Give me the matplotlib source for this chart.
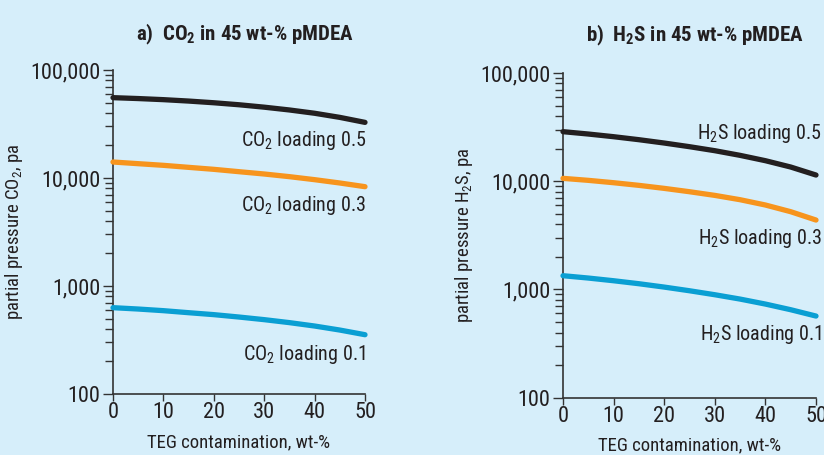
import matplotlib
matplotlib.use("Agg")
import matplotlib.pyplot as plt
from matplotlib.ticker import FixedLocator, LogLocator, NullFormatter, FuncFormatter
from matplotlib import font_manager

names = {f.name for f in font_manager.fontManager.ttflist}
FONT = next((n for n in ["Roboto Condensed", "Archivo Narrow", "PT Sans Narrow",
                         "IBM Plex Sans Condensed", "Liberation Sans"] if n in names), "DejaVu Sans")
plt.rcParams['font.family'] = [FONT, 'DejaVu Sans']
plt.rcParams['mathtext.fontset'] = 'custom'
plt.rcParams['mathtext.rm'] = FONT
plt.rcParams['mathtext.it'] = FONT
plt.rcParams['mathtext.bf'] = FONT + ':bold'

# Data
teg = [0, 5, 10, 15, 20, 25, 30, 35, 40, 45, 50]
co2_05 = [55450, 54400, 53140, 51570, 49740, 47660, 45270, 42650, 39760, 36420, 32740]
co2_03 = [14060, 13570, 13100, 12550, 12030, 11440, 10890, 10290, 9650, 8990, 8310]
co2_01 = [630, 612, 591, 566, 543, 516, 488, 458, 426, 391, 354]
h2s_05 = [28700, 27300, 25790, 24200, 22540, 20850, 19150, 17340, 15480, 13530, 11410]
h2s_03 = [10630, 10190, 9690, 9160, 8590, 8000, 7400, 6750, 6030, 5230, 4380]
h2s_01 = [1340, 1275, 1204, 1130, 1052, 973, 894, 815, 733, 650, 568]
xticks = [0, 10, 20, 30, 40, 50]
yticks = [100, 1000, 10000, 100000]

BG = "#D6EEFA"
C_BLACK = "#231F20"
C_ORANGE = "#F7941D"
C_BLUE = "#0A9FD3"
AX = "#333333"
TXT = "#231F20"

fig = plt.figure(figsize=(8.24, 4.55), dpi=100)
fig.patch.set_facecolor(BG)

axL = fig.add_axes([113/824, 1-394/455, (365-113)/824, (394-70)/455])
axR = fig.add_axes([563/824, 1-397.7/455, (816-563)/824, (397.7-73)/455])

def style(ax):
    ax.set_facecolor(BG)
    ax.set_yscale('log')
    ax.set_xlim(0, 50)
    ax.set_ylim(100, 100000)
    for s in ['top', 'right']:
        ax.spines[s].set_visible(False)
    for s in ['left', 'bottom']:
        ax.spines[s].set_color(AX)
        ax.spines[s].set_linewidth(1.2)
    ax.xaxis.set_major_locator(FixedLocator(xticks))
    ax.yaxis.set_major_locator(FixedLocator(yticks))
    ax.yaxis.set_minor_locator(LogLocator(base=10, subs=range(2, 10)))
    ax.yaxis.set_minor_formatter(NullFormatter())
    ax.yaxis.set_major_formatter(FuncFormatter(lambda v, p: f"{int(round(v)):,}"))
    ax.tick_params(axis='y', which='major', length=7, width=1.0, color=AX, labelsize=16, labelcolor=TXT, pad=2)
    ax.tick_params(axis='y', which='minor', length=6, width=1.0, color=AX)
    ax.tick_params(axis='x', which='major', length=5, width=1.0, color=AX, labelsize=16, labelcolor=TXT, pad=1)
    ax.set_xlabel("TEG contamination, wt-%", fontsize=13.5, color=TXT, labelpad=7)

LW = 3.8
for ax, series in [(axL, [co2_05, co2_03, co2_01]), (axR, [h2s_05, h2s_03, h2s_01])]:
    style(ax)
    for vals, c in zip(series, [C_BLACK, C_ORANGE, C_BLUE]):
        ax.plot(teg, vals, color=c, lw=LW, solid_capstyle='round', clip_on=False, zorder=3)

# axis labels
axL.set_ylabel(r"partial pressure CO$_2$, pa", fontsize=13.5, color=TXT, labelpad=4)
axR.set_ylabel(r"partial pressure H$_2$S, pa", fontsize=13.5, color=TXT, labelpad=4)

# titles
fig.text(245/824, 1-34/455, r"a)  CO$_\mathbf{2}$ in 45 wt-% pMDEA", ha='center', va='center',
         fontsize=15, fontweight='bold', color=TXT)
fig.text(695/824, 1-35/455, r"b)  H$_\mathbf{2}$S in 45 wt-% pMDEA", ha='center', va='center',
         fontsize=15, fontweight='bold', color=TXT)

# curve labels
lbl = dict(ha='right', va='center', fontsize=14.5, color=TXT)
fig.text(366/824, 1-141/455, r"CO$_2$ loading 0.5", **lbl)
fig.text(366/824, 1-206/455, r"CO$_2$ loading 0.3", **lbl)
fig.text(366/824, 1-354/455, r"CO$_2$ loading 0.1", **lbl)
fig.text(822/824, 1-133/455, r"H$_2$S loading 0.5", **lbl)
fig.text(822/824, 1-239/455, r"H$_2$S loading 0.3", **lbl)
fig.text(822/824, 1-335/455, r"H$_2$S loading 0.1", **lbl)

fig.savefig("out.png", dpi=100, facecolor=BG)
